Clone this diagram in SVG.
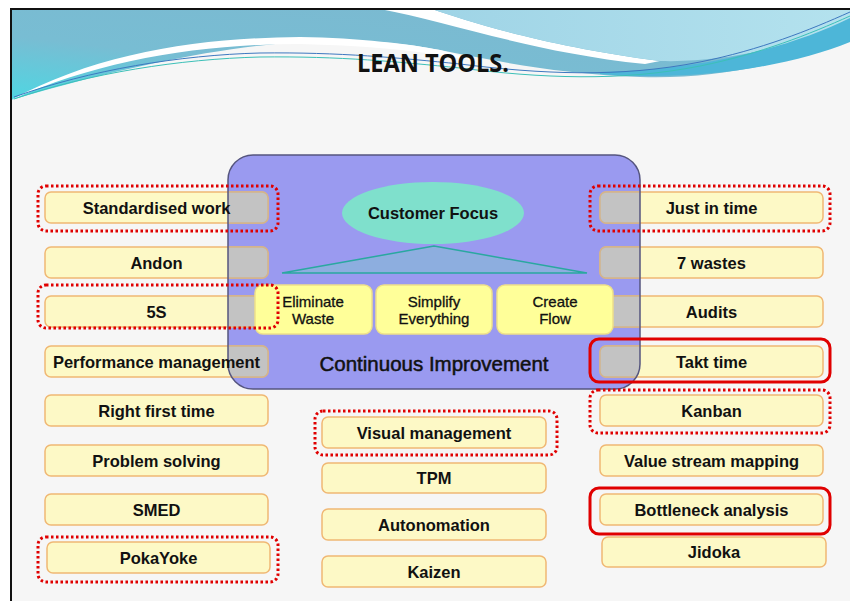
<svg xmlns="http://www.w3.org/2000/svg" width="850" height="601" viewBox="0 0 850 601">
<defs>
<style>
.box{fill:#fdf9c6;stroke:#f0b874;stroke-width:1.5}
.gray{fill:#c3c3c3;stroke:#d2b48c;stroke-width:1.5}
.lbl{font-family:"Liberation Sans",Arial,sans-serif;font-weight:bold;font-size:16.5px;fill:#111;text-anchor:middle}
.mid{font-family:"Liberation Sans",Arial,sans-serif;font-size:15px;fill:#111;stroke:#111;stroke-width:0.3;text-anchor:middle}
.ci{font-family:"Liberation Sans",Arial,sans-serif;font-size:20.5px;fill:#111;stroke:#111;stroke-width:0.5;text-anchor:middle}
.inner{fill:#ffff99;stroke:#eee08a;stroke-width:1.5}
.dot{fill:none;stroke:#e00000;stroke-width:3;stroke-dasharray:2.5 2.5}
.solid{fill:none;stroke:#e00000;stroke-width:3}
</style>
<linearGradient id="hg" x1="0" y1="1" x2="1" y2="0">
<stop offset="0" stop-color="#4fd6e2"/>
<stop offset="0.35" stop-color="#78bdd3"/>
<stop offset="1" stop-color="#7cb8d0"/>
</linearGradient>
<linearGradient id="lb" x1="0" y1="0" x2="1" y2="0">
<stop offset="0" stop-color="#9fd4e6"/>
<stop offset="1" stop-color="#b4e2ee"/>
</linearGradient>
<clipPath id="pc"><rect x="228" y="155" width="412" height="234" rx="25"/></clipPath>
</defs>

<rect x="11" y="9" width="839" height="592" fill="#f6f6f6"/>

<g id="header">
<path d="M11,9 H850 V40 C800,60 720,80 640,77 C560,74 500,62 440,50 C360,35 250,30 11,100 Z" fill="url(#hg)"/>
<path d="M380,9 C450,22 530,52 645,64 L660,61 C545,46 470,22 432,9 Z" fill="#ffffff"/>
<path d="M432,9 C470,22 545,46 660,61 C730,63 795,45 850,22 V9 Z" fill="url(#lb)"/>
<path d="M600,72 C700,70 790,48 850,18 V42 C790,66 700,82 600,74 Z" fill="#4db6d8"/>
<path d="M11,100 C100,52 200,38 300,37 C360,38 410,44 440,50 C470,58 480,62 480,62 C430,52 380,46 300,44 C200,44 100,60 11,100 Z" fill="#ffffff"/>
<path d="M14,97 C90,70 180,55 260,53 C340,52 400,58 460,64 C540,74 620,78 700,62 C760,50 810,30 850,12" fill="none" stroke="#3d78c0" stroke-width="1"/>
<path d="M14,99 C90,73 180,59 260,57 C340,56 400,62 460,68 C540,78 620,82 700,66 C760,54 810,34 850,16" fill="none" stroke="#3cc0b8" stroke-width="1"/>
<text x="357" y="72" textLength="152" lengthAdjust="spacingAndGlyphs" font-family="'Open Sans','Liberation Sans',sans-serif" font-weight="bold" font-size="25" fill="#111">LEAN TOOLS.</text>
</g>

<rect x="10" y="8" width="842" height="2" fill="#111"/>
<rect x="10" y="8" width="2" height="593" fill="#111"/>

<g id="core-bg">
<rect x="228" y="155" width="412" height="234" rx="25" fill="#9a9af0"/>
</g>

<g id="connectors"/>

<g id="box-standardised-work"><rect class="box" x="45" y="192" width="223" height="31" rx="6"/></g>
<g id="box-andon"><rect class="box" x="45" y="247" width="223" height="31" rx="6"/></g>
<g id="box-5s"><rect class="box" x="45" y="296" width="223" height="31" rx="6"/></g>
<g id="box-performance-management"><rect class="box" x="45" y="346" width="223" height="31" rx="6"/></g>
<g id="box-right-first-time"><rect class="box" x="45" y="395" width="223" height="31" rx="6"/></g>
<g id="box-problem-solving"><rect class="box" x="45" y="445" width="223" height="31" rx="6"/></g>
<g id="box-smed"><rect class="box" x="45" y="494" width="223" height="31" rx="6"/></g>
<g id="box-pokayoke"><rect class="box" x="47" y="542" width="223" height="31" rx="6"/></g>

<g id="box-just-in-time"><rect class="box" x="600" y="192" width="223" height="31" rx="6"/></g>
<g id="box-7-wastes"><rect class="box" x="600" y="247" width="223" height="31" rx="6"/></g>
<g id="box-audits"><rect class="box" x="600" y="296" width="223" height="31" rx="6"/></g>
<g id="box-takt-time"><rect class="box" x="600" y="346" width="223" height="31" rx="6"/></g>
<g id="box-kanban"><rect class="box" x="600" y="395" width="223" height="31" rx="6"/></g>
<g id="box-value-stream-mapping"><rect class="box" x="600" y="445" width="223" height="31" rx="6"/></g>
<g id="box-bottleneck-analysis"><rect class="box" x="600" y="494" width="223" height="31" rx="6"/></g>
<g id="box-jidoka"><rect class="box" x="602" y="537" width="224" height="30" rx="6"/></g>

<g id="box-visual-management"><rect class="box" x="322" y="417" width="224" height="31" rx="6"/></g>
<g id="box-tpm"><rect class="box" x="322" y="463" width="224" height="30" rx="6"/></g>
<g id="box-autonomation"><rect class="box" x="322" y="509" width="224" height="31" rx="6"/></g>
<g id="box-kaizen"><rect class="box" x="322" y="556" width="224" height="31" rx="6"/></g>

<g id="overlap" clip-path="url(#pc)">
<rect class="gray" x="45" y="192" width="223" height="31" rx="6"/>
<rect class="gray" x="45" y="247" width="223" height="31" rx="6"/>
<rect class="gray" x="45" y="296" width="223" height="31" rx="6"/>
<rect class="gray" x="45" y="346" width="223" height="31" rx="6"/>
<rect class="gray" x="600" y="192" width="223" height="31" rx="6"/>
<rect class="gray" x="600" y="247" width="223" height="31" rx="6"/>
<rect class="gray" x="600" y="296" width="223" height="31" rx="6"/>
<rect class="gray" x="600" y="346" width="223" height="31" rx="6"/>
</g>
<rect x="228" y="155" width="412" height="234" rx="25" fill="none" stroke="#55557f" stroke-width="1.5"/>

<g id="customer-focus">
<ellipse cx="433" cy="213" rx="91" ry="31" fill="#7fe0cc"/>
<text x="433" y="219" class="lbl" font-size="16">Customer Focus</text>
</g>
<g id="roof">
<polygon points="434,246 282,273 587,273" fill="#8daedf" stroke="#2aa8a0" stroke-width="1.5"/>
</g>
<g id="eliminate-waste">
<rect class="inner" x="255" y="285" width="117" height="49" rx="8"/>
<text class="mid" x="313" y="307">Eliminate</text>
<text class="mid" x="313" y="324">Waste</text>
</g>
<g id="simplify-everything">
<rect class="inner" x="376" y="285" width="116" height="49" rx="8"/>
<text class="mid" x="434" y="307">Simplify</text>
<text class="mid" x="434" y="324">Everything</text>
</g>
<g id="create-flow">
<rect class="inner" x="497" y="285" width="116" height="49" rx="8"/>
<text class="mid" x="555" y="307">Create</text>
<text class="mid" x="555" y="324">Flow</text>
</g>
<g id="continuous-improvement">
<text class="ci" x="434" y="371">Continuous Improvement</text>
</g>

<g id="highlights">
<rect class="dot" x="38" y="186" width="240" height="45" rx="8"/>
<rect class="dot" x="38" y="285" width="240" height="43" rx="8"/>
<rect class="dot" x="38" y="537" width="240" height="45" rx="8"/>
<rect class="dot" x="315" y="411" width="242" height="44" rx="8"/>
<rect class="dot" x="590" y="186" width="240" height="45" rx="8"/>
<rect class="solid" x="590" y="339" width="240" height="43" rx="9"/>
<rect class="dot" x="590" y="390" width="240" height="43" rx="8"/>
<rect class="solid" x="590" y="488" width="240" height="46" rx="9"/>
</g>

<g id="labels">
<text class="lbl" x="156.5" y="213.5">Standardised work</text>
<text class="lbl" x="156.5" y="268.5">Andon</text>
<text class="lbl" x="156.5" y="317.5">5S</text>
<text class="lbl" x="156.5" y="367.5">Performance management</text>
<text class="lbl" x="156.5" y="416.5">Right first time</text>
<text class="lbl" x="156.5" y="466.5">Problem solving</text>
<text class="lbl" x="156.5" y="515.5">SMED</text>
<text class="lbl" x="158.5" y="563.5">PokaYoke</text>
<text class="lbl" x="711.5" y="213.5">Just in time</text>
<text class="lbl" x="711.5" y="268.5">7 wastes</text>
<text class="lbl" x="711.5" y="317.5">Audits</text>
<text class="lbl" x="711.5" y="367.5">Takt time</text>
<text class="lbl" x="711.5" y="416.5">Kanban</text>
<text class="lbl" x="711.5" y="466.5">Value stream mapping</text>
<text class="lbl" x="711.5" y="515.5">Bottleneck analysis</text>
<text class="lbl" x="714" y="558">Jidoka</text>
<text class="lbl" x="434" y="438.5">Visual management</text>
<text class="lbl" x="434" y="484">TPM</text>
<text class="lbl" x="434" y="530.5">Autonomation</text>
<text class="lbl" x="434" y="577.5">Kaizen</text>
</g>
</svg>
